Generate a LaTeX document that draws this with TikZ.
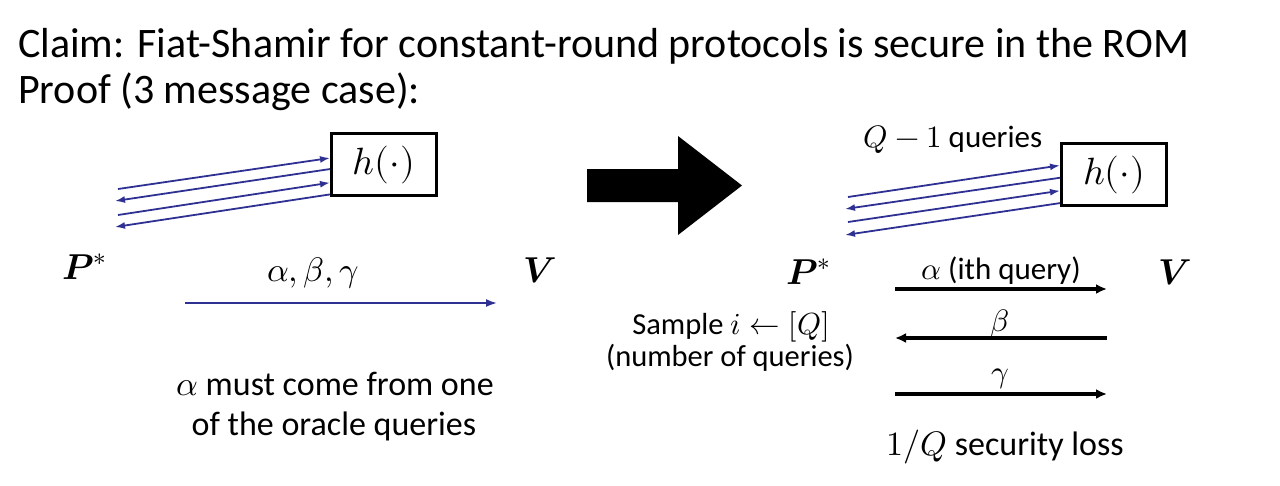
\documentclass[tikz,border=0pt]{standalone}
\usepackage{amsmath}
\usepackage{fontspec}
\usepackage{unicode-math}
\setmainfont{Carlito}
\setmathfont{Latin Modern Math}
\usetikzlibrary{arrows.meta,calc}
\definecolor{navy}{RGB}{46,49,146}
\begin{document}
\begin{tikzpicture}[x=1pt,y=-1pt,
  txt/.style={anchor=base,inner sep=0pt,font=\fontsize{34}{40}\selectfont},
  small/.style={anchor=base,inner sep=0pt,font=\fontsize{31}{37}\selectfont},
  title/.style={anchor=base west,inner sep=0pt,font=\fontsize{42}{48}\selectfont},
  party/.style={anchor=base,inner sep=0pt,font=\fontsize{36}{44}\selectfont},
  oracle/.style={draw,line width=3pt,minimum width=105pt,minimum height=62pt,inner sep=0pt,font=\fontsize{38}{44}\selectfont},
  query/.style={navy,line width=1.8pt,-{Latex[length=10pt,width=7pt]}},
  msg/.style={black,line width=3.2pt,-{Latex[length=11pt,width=10pt]}},
  bigarrow/.style={fill=black,draw=none}]
\useasboundingbox (0,0) rectangle (1280,485);
% title
\node[title] (t1) at (18,57) {Claim: Fiat-Shamir for constant-round protocols is secure in the ROM};
\node[title] (t2) at (18,103) {Proof (3 message case):};
% ---------- left picture ----------
\node[oracle] (hL) at (384,164.5) {$h(\cdot)$};
\coordinate (hLa) at ($(hL.north west)!0.40!(hL.south west)$);
\coordinate (hLb) at ($(hL.north west)!0.57!(hL.south west)$);
\coordinate (hLc) at ($(hL.north west)!0.78!(hL.south west)$);
\coordinate (hLd) at ($(hL.north west)!0.96!(hL.south west)$);
\coordinate (qLa) at (118,189);
\coordinate (qLb) at (115,201);
\coordinate (qLc) at (118,215);
\coordinate (qLd) at (115,227);
\draw[query] (qLa) -- (hLa);
\draw[query] (hLb) -- (qLb);
\draw[query] (qLc) -- (hLc);
\draw[query] (hLd) -- (qLd);
\node[party,anchor=base west] (PL) at (62,279) {$\symbfit{P}^{*}$};
\node[party] (VL) at (540,282) {$\symbfit{V}$};
\node[txt] (abg) at (313,281) {$\alpha,\beta,\gamma$};
\coordinate (mLs) at (185,303);
\coordinate (mLe) at (497,303);
\draw[navy,line width=1.8pt,-{Latex[length=11pt,width=8pt]}] (mLs) -- (mLe);
\node[txt] (n1) at (335,395) {$\alpha$ must come from one};
\node[txt] (n2) at (334,435) {of the oracle queries};
% ---------- big arrow ----------
\fill[bigarrow] (587,169) -- (678,169) -- (678,136) -- (742,185.5) -- (678,235) -- (678,202) -- (587,202) -- cycle;
% ---------- right picture ----------
\node[oracle] (hR) at (1114,174.5) {$h(\cdot)$};
\coordinate (hRa) at ($(hR.north west)!0.36!(hR.south west)$);
\coordinate (hRb) at ($(hR.north west)!0.55!(hR.south west)$);
\coordinate (hRc) at ($(hR.north west)!0.75!(hR.south west)$);
\coordinate (hRd) at ($(hR.north west)!0.94!(hR.south west)$);
\coordinate (qRa) at (848,197);
\coordinate (qRb) at (845,209);
\coordinate (qRc) at (848,222);
\coordinate (qRd) at (845,235);
\draw[query] (qRa) -- (hRa);
\draw[query] (hRb) -- (qRb);
\draw[query] (qRc) -- (hRc);
\draw[query] (hRd) -- (qRd);
\node[small] (Qq) at (953,147) {$Q-1$ queries};
\node[party,anchor=base west] (PR) at (786,284) {$\symbfit{P}^{*}$};
\node[party] (VR) at (1175,284) {$\symbfit{V}$};
\node[small] (la) at (1001,279) {$\alpha$ (ith query)};
\node[small] (lb) at (1000,331) {$\beta$};
\node[small] (lg) at (1000,382) {$\gamma$};
\coordinate (m1s) at (895,289); \coordinate (m1e) at (1107,289);
\coordinate (m2s) at (1107,338); \coordinate (m2e) at (895,338);
\coordinate (m3s) at (895,394); \coordinate (m3e) at (1107,394);
\draw[msg] (m1s) -- (m1e);
\draw[msg] (m2s) -- (m2e);
\draw[msg] (m3s) -- (m3e);
\node[anchor=base,inner sep=0pt,font=\fontsize{30.5}{36}\selectfont] (s1) at (731,334) {Sample $i\leftarrow[Q]$};
\node[anchor=base,inner sep=0pt,font=\fontsize{30.5}{36}\selectfont] (s2) at (730,366) {(number of queries)};
\node[txt] (loss) at (1005,455) {$1/Q$ security loss};
\end{tikzpicture}
\end{document}
